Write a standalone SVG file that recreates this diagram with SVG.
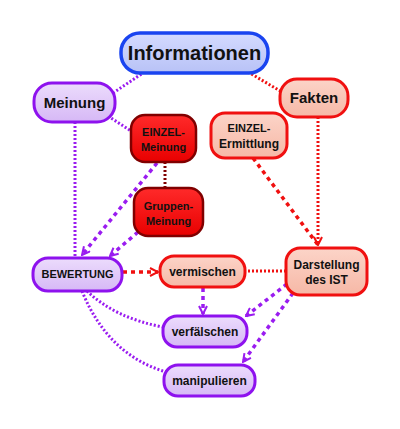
<svg xmlns="http://www.w3.org/2000/svg" width="400" height="429" viewBox="0 0 400 429">
<style>
text{font-family:"Liberation Sans",Arial,sans-serif;font-weight:bold;fill:#111;text-anchor:middle}
.big{font-size:20px}
.mid{font-size:15px}
.sm{font-size:11px}
.md{font-size:12px}
.blue{fill:url(#gBlue);stroke:#1a44f0;stroke-width:3.5}
.purp{fill:url(#gPurp);stroke:#8e12ee;stroke-width:3}
.salm{fill:url(#gSalm);stroke:#f01010;stroke-width:3}
.red{fill:url(#gRed);stroke:#800000;stroke-width:2.5}
.c{fill:none}
.pdot{stroke:#9a1cf0;stroke-width:3;stroke-dasharray:2 2}
.rdot{stroke:#f01010;stroke-width:3;stroke-dasharray:2 2}
.ddot{stroke:#800000;stroke-width:3;stroke-dasharray:2 2}
.pdash{stroke:#9a1cf0;stroke-width:3.5;stroke-dasharray:4 4}
.rdash{stroke:#f01010;stroke-width:3.5;stroke-dasharray:4 4}
</style>
<defs>
<linearGradient id="gBlue" x1="0" y1="0" x2="0" y2="1"><stop offset="0" stop-color="#d4daff"/><stop offset="1" stop-color="#b8c2f6"/></linearGradient>
<linearGradient id="gPurp" x1="0" y1="0" x2="0" y2="1"><stop offset="0" stop-color="#ecdcfc"/><stop offset="1" stop-color="#d6b8f6"/></linearGradient>
<linearGradient id="gSalm" x1="0" y1="0" x2="0" y2="1"><stop offset="0" stop-color="#fcd4c8"/><stop offset="1" stop-color="#f6b8a6"/></linearGradient>
<linearGradient id="gRed" x1="0" y1="0" x2="0" y2="1"><stop offset="0" stop-color="#ff2a2a"/><stop offset="1" stop-color="#e80000"/></linearGradient>
<marker id="aP" viewBox="0 0 10 10" refX="9" refY="5" markerWidth="10" markerHeight="10" markerUnits="userSpaceOnUse" orient="auto"><path d="M1,1 L9,5 L1,9" fill="none" stroke="#9a1cf0" stroke-width="2"/></marker>
<marker id="aR" viewBox="0 0 10 10" refX="9" refY="5" markerWidth="10" markerHeight="10" markerUnits="userSpaceOnUse" orient="auto"><path d="M1,1 L9,5 L1,9" fill="none" stroke="#f01010" stroke-width="2"/></marker>
</defs>
<g id="connectors">
<line class="c pdot" x1="113" y1="93" x2="146" y2="71"/>
<line class="c rdot" x1="248" y1="72" x2="282" y2="92"/>
<line class="c pdot" x1="108" y1="116" x2="131" y2="131"/>
<line class="c ddot" x1="165" y1="162" x2="165" y2="188"/>
<line class="c pdot" x1="75" y1="122" x2="75" y2="256"/>
<line class="c pdash" x1="157" y1="163" x2="82" y2="255" marker-end="url(#aP)"/>
<line class="c pdash" x1="138" y1="232" x2="110" y2="256" marker-end="url(#aP)"/>
<line class="c rdot" x1="318" y1="117" x2="318" y2="245" marker-end="url(#aR)"/>
<line class="c rdash" x1="253" y1="158" x2="318" y2="245"/>
<line class="c rdash" x1="123" y1="272" x2="158" y2="272" marker-end="url(#aR)"/>
<line class="c rdot" x1="286" y1="271" x2="245" y2="271"/>
<line class="c pdash" x1="203" y1="288" x2="203" y2="314" marker-end="url(#aP)"/>
<path class="c pdot" d="M87,291 Q115,318 163,327"/>
<path class="c pdot" d="M82,291 Q108,355 166,372"/>
<line class="c pdash" x1="287" y1="284" x2="246" y2="316" marker-end="url(#aP)"/>
<line class="c pdash" x1="293" y1="293" x2="243" y2="362" marker-end="url(#aP)"/>
</g>
<g id="informationen"><rect class="blue" x="121" y="33" width="147" height="40" rx="19"/><text class="big" x="194.5" y="60">Informationen</text></g>
<g id="meinung"><rect class="purp" x="34" y="83" width="81" height="39" rx="18"/><text class="mid" x="74.5" y="107.5">Meinung</text></g>
<g id="fakten"><rect class="salm" x="280" y="79" width="68" height="38" rx="17"/><text class="mid" x="314" y="103">Fakten</text></g>
<g id="einzel-meinung"><rect class="red" x="131" y="115" width="65" height="47" rx="14"/><text class="sm" x="163.5" y="136">EINZEL-</text><text class="sm" x="163.5" y="151">Meinung</text></g>
<g id="gruppen-meinung"><rect class="red" x="134" y="188" width="69" height="48" rx="14"/><text class="sm" x="168.5" y="210">Gruppen-</text><text class="sm" x="168.5" y="225">Meinung</text></g>
<g id="einzel-ermittlung"><rect class="salm" x="211" y="113" width="76" height="45" rx="14"/><text class="sm" x="249" y="132">EINZEL-</text><text class="md" x="249" y="148">Ermittlung</text></g>
<g id="bewertung"><rect class="purp" x="33" y="258" width="89" height="33" rx="15"/><text class="sm" x="77.5" y="278">BEWERTUNG</text></g>
<g id="vermischen"><rect class="salm" x="160" y="256" width="85" height="31" rx="14"/><text class="md" x="202.5" y="276">vermischen</text></g>
<g id="darstellung"><rect class="salm" x="286" y="248" width="81" height="47" rx="14"/><text class="md" x="326.5" y="269">Darstellung</text><text class="md" x="326.5" y="284">des IST</text></g>
<g id="verfaelschen"><rect class="purp" x="163" y="316" width="84" height="31" rx="14"/><text class="md" x="205" y="336">verfälschen</text></g>
<g id="manipulieren"><rect class="purp" x="164" y="365" width="91" height="31" rx="14"/><text class="md" x="209.5" y="385">manipulieren</text></g>
</svg>
